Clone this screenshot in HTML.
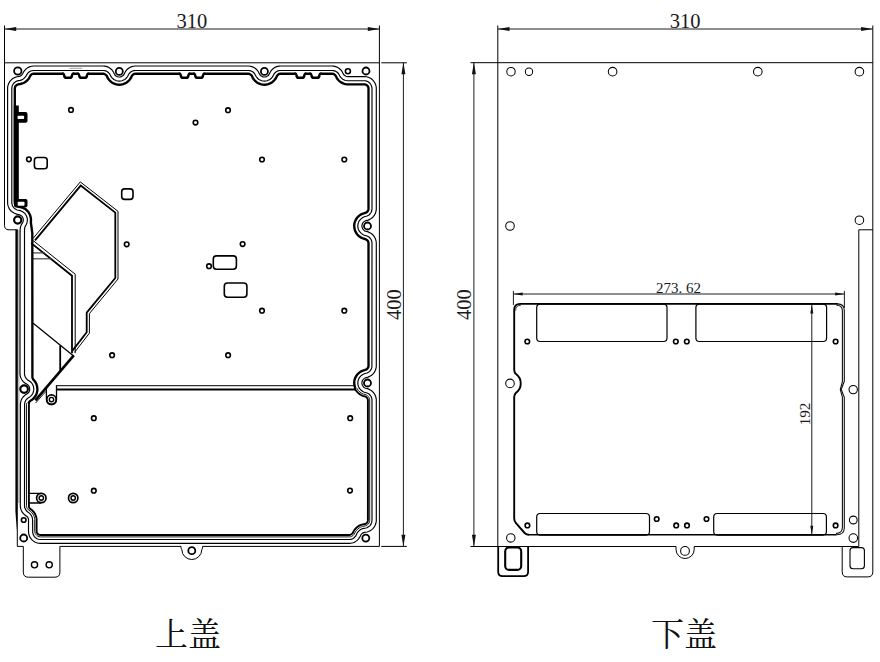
<!DOCTYPE html>
<html lang="zh"><head><meta charset="utf-8"><title>上盖 下盖</title>
<style>
html,body{margin:0;padding:0;background:#fff}
svg{display:block}
text{font-family:"Liberation Serif","Noto Serif CJK SC",serif}
.cj{font-family:"Noto Serif CJK SC","Liberation Serif",serif}
</style></head><body>
<svg width="880" height="662" viewBox="0 0 880 662" fill="none">
<rect width="880" height="662" fill="#fff"/>
<path d="M32.9,238.6L80.3,181.9L118,211.3L118,279L89.4,313.6L89.4,333.2L74.6,352.3" stroke="#000" stroke-width="1.0" fill="none" stroke-linejoin="miter"/>
<path d="M35,240.3L80.7,185.6L115.3,212.6L115.3,278L86.7,312.6L86.7,332.3L72.5,350.6" stroke="#000" stroke-width="1.8" fill="none" stroke-linejoin="miter"/>
<path d="M33.2,240.6L75.2,274.2L75.2,353.2" stroke="#000" stroke-width="1.0" fill="none" stroke-linejoin="miter"/>
<path d="M31.2,243.1L72,275.7L72,353.2" stroke="#000" stroke-width="1.8" fill="none" stroke-linejoin="miter"/>
<path d="M33,252.9L45,252.9" stroke="#444" stroke-width="1.2" />
<path d="M33,258.8L52,258.8" stroke="#444" stroke-width="1.2" />
<path d="M32.9,323.1L73.6,355.9" stroke="#000" stroke-width="1.3" />
<path d="M73.8,355.4L35.4,400.4" stroke="#000" stroke-width="2.6" />
<path d="M46,391.3L35.6,403" stroke="#000" stroke-width="0.9" />
<path d="M60.2,345.5L60.2,371" stroke="#000" stroke-width="1.8" />
<path d="M4.5,25.5V225.3Q4.5,229.8 9,229.8H15.9M17.3,546.4H23.3V572.2Q23.3,577.2 28.3,577.2H54.9Q59.9,577.2 59.9,572.2V546.4H181V548.5Q181.8,548.5 181.8,549.5A10,10 0 0 0 201.8,549.5Q201.8,548.5 202.6,548.5V546.4H379.45M381.3,546.4H406.8" stroke="#000" stroke-width="1" fill="none" />
<path d="M4.5,62.8L379.4,62.8" stroke="#000" stroke-width="1" />
<path d="M381.3,62.8L406.8,62.8" stroke="#000" stroke-width="1" />
<path d="M379.4,25.5L379.4,546.4" stroke="#000" stroke-width="1" />
<rect x="17.5" y="230" width="2" height="273" fill="#bdbdbd"/>
<path d="M15.4,229.3V511L16.8,531V546.4H17.8V229.3Z" fill="#000"/>
<path d="M20.1,76.1 16.1,77 14.6,77.6 12.5,78.8 11.3,79.9 9.7,81.7 8.6,83.8 7.8,86.1 7.6,87.7 7.6,202.5 7.8,204.9 8.3,206.4 9.2,208.6 10.6,210.5 12.4,212.1 14.4,213.3 16.7,214.1 19.5,214.7 20.9,215.4 21.8,216.1 22.6,217.2 23,218.2 23.3,219.6 23.2,221 22.9,222 21.4,224.6 20.5,226.9 20.2,228.5 20.1,230.1 20,374.2 20.2,375.7 20.6,377.2 21.2,378.6 22,380 22.9,381.2 24,382.3 25.3,383.3 27.3,384.5 28.3,385.4 29,386.3 29.3,387.1 29.6,388.1 29.7,389.2 29.6,390.3 29.3,391.1 29,391.9 28.3,392.8 27.5,393.5 25.3,394.9 24.1,396 23,397.2 22,398.5 21.3,399.9 20.8,401.4 20.4,403.8 20.3,505.6 20.4,507.1 20.9,509.4 21.5,510.8 22.3,512.1 23.2,513.4 24.3,514.5 27.2,516.7 27.8,517.4 28.3,518.5 28.5,519.9 28.5,531.4 28.6,533 28.9,534.5 29.4,536 30.1,537.4 31,538.7 32,539.9 33.2,540.9 35.2,542.2 36.6,542.8 38.2,543.2 40.5,543.4 349.2,543.4 350.8,543.3 353.1,542.8 354.5,542.2 356.5,540.9 357.7,539.9 358.7,538.7 359.6,537.4 361,534.7 361.7,533.8 362.6,533.1 364.2,532.4 367,532 368.5,531.5 370.5,530.5 371.8,529.6 372.9,528.6 373.9,527.4 375.1,525.5 375.9,523.3 376.3,521 376.3,399.5 375.9,397.2 375.4,395.7 374.3,393.6 373.3,392.4 371.6,390.8 370.3,389.9 368.2,388.9 365.5,388.2 364.5,387.7 363.8,387.2 363.1,386.4 362.4,385.3 362,384.2 361.9,382.9 362.1,381.5 362.5,380.5 363.3,379.3 364.1,378.6 365.5,377.8 368.2,377.1 370.3,376.1 371.6,375.2 373.3,373.6 374.3,372.4 375.4,370.3 375.9,368.8 376.2,367.3 376.3,365.7 376.3,243.3 376.1,241 375.4,238.7 374.3,236.6 373.3,235.4 372.2,234.3 370.3,232.9 368.2,231.9 365.5,231.2 364.7,230.9 363.8,230.2 362.9,229.2 362.4,228.3 362,227 361.9,225.9 362,224.8 362.5,223.5 363.3,222.3 364.1,221.6 365.5,220.8 368.2,220.1 370.3,219.1 372.2,217.7 373.3,216.6 374.3,215.4 375.4,213.3 376.1,211 376.3,209.5 376.3,88.6 376.2,87 375.7,84.7 375.1,83.3 373.8,81.3 372.8,80.1 371,78.6 368.9,77.5 366.6,76.8 364.3,76.6 347.8,76.6 346,76.2 344.8,75.6 343.9,74.8 343.3,73.9 342.3,72 341.5,70.7 340.4,69.5 339.3,68.5 337.3,67.2 335.8,66.6 333.5,66.1 332,66 280.7,66 279.1,66.1 277.6,66.4 276.1,66.9 274.7,67.6 273.4,68.5 272.2,69.5 271.2,70.7 270.3,72 269.1,74.4 268.3,75.5 267.4,76.1 266.7,76.5 265.6,76.9 264.5,77 263.4,76.9 262.4,76.6 261.4,76.1 260.5,75.5 259.7,74.4 258.5,72 257.6,70.7 256,69 254.8,68 253.4,67.2 251.9,66.6 250.4,66.2 248.9,66 134.8,66 133.3,66.2 131.8,66.6 130.3,67.2 128.9,68 127.1,69.5 126.1,70.7 125.2,72 124,74.4 123.2,75.5 122.3,76.1 121.3,76.6 120.3,76.9 119.2,77 118.1,76.9 117,76.5 116.1,76 115.4,75.5 114.6,74.4 113.4,72 112.5,70.7 111.5,69.5 110.3,68.5 109,67.6 107.6,66.9 106.1,66.4 104.6,66.1 103,66 33.2,66 31.7,66.2 29.4,66.9 28.1,67.5 26.8,68.4 25.6,69.4 24.6,70.5 23.7,71.8 22.5,74 21.7,75.1 20.8,75.7Z" stroke="#000" stroke-width="1.15" fill="none" />
<path d="M20.3,80.4 17.4,80.9 15.9,81.6 14.6,82.5 13.8,83.2 13.2,84 12.4,85.4 12.1,86.4 11.8,88 11.8,203 12.1,204.6 12.6,206 13.5,207.3 14.9,208.8 16.3,209.6 17.2,210 20.2,210.6 21.8,211.2 23.4,212.2 24.8,213.4 25.8,214.7 26.6,216.2 27.1,217.7 27.4,219.4 27.3,221 27,222.7 26.4,224.2 25.3,226.2 24.9,227.1 24.6,228.6 24.5,229.7 24.5,374.1 24.8,375.6 25.1,376.5 25.8,377.9 26.4,378.7 27.4,379.7 30.5,381.8 31.5,382.9 32.4,384 33,385.3 33.5,386.6 33.7,388.1 33.8,389.2 33.7,390.4 33.4,391.8 32.9,393.2 32.4,394.2 31.5,395.3 30.5,396.4 27.4,398.5 26.3,399.6 25.7,400.5 25,402 24.6,404 24.5,505.6 24.6,507.1 24.9,508.1 25.8,510 27.1,511.5 29.3,513.1 30.4,514.1 31.5,515.7 32.2,517.3 32.6,519.7 32.7,532.6 33.2,534.6 34.2,536.4 35.3,537.5 37,538.7 38.5,539.2 40.5,539.5 349.1,539.5 350.2,539.4 351.7,539.1 353.1,538.4 354.4,537.5 355.8,535.9 357,533.3 357.8,532.1 359,530.8 360.3,529.7 361.6,529 362.8,528.6 365.9,528 366.9,527.7 368.8,526.6 370,525.6 371.1,523.9 371.7,522.4 372,520.3 372,399.7 371.7,398.2 371.2,396.8 370.4,395.5 369.3,394.3 368.5,393.7 367.1,393 364.3,392.2 362.8,391.5 361.4,390.6 360.1,389.2 359.1,387.9 358.4,386.4 358,384.8 357.8,382.9 358,381.2 358.5,379.4 359.2,377.9 360.2,376.6 361.4,375.4 362.8,374.5 364.3,373.8 367.1,373 368.5,372.3 369.3,371.7 370,370.9 370.9,369.7 371.6,368.3 371.9,366.8 372,242.7 371.7,241.2 371.2,239.8 370.4,238.5 369.3,237.3 368.5,236.7 367.1,236 364.3,235.2 362.8,234.5 361.3,233.4 360.1,232.2 359,230.7 358.3,229.2 357.9,227.5 357.8,225.9 358,224.2 358.4,222.6 359.1,221.1 360.1,219.8 361.3,218.6 362.8,217.5 364.3,216.8 367.1,216 368.5,215.3 369.3,214.7 370.4,213.5 371.2,212.2 371.7,210.8 372,209.3 372,88.6 371.9,87.6 371.6,86.1 370.9,84.7 370.4,83.8 369.3,82.7 368.1,81.8 366.6,81.1 365.1,80.8 347.5,80.7 346.2,80.5 344.8,80.2 342.8,79.2 341.2,77.9 340,76.4 338.6,73.8 338,73 336.8,72 336,71.5 334.6,70.9 333.6,70.6 332.1,70.5 279.6,70.5 278.1,70.9 277.1,71.2 276.3,71.7 275.1,72.7 273.8,74.3 272.9,76.1 272.1,77.3 271,78.5 269.9,79.4 268.6,80.1 267.3,80.7 265.9,81 264.5,81.1 263.1,81 261.7,80.7 260.2,80.1 258.9,79.4 257.8,78.5 256.8,77.5 256,76.3 254.7,73.8 253.4,72.3 252.1,71.5 251.2,71 249.7,70.6 248.7,70.5 135,70.5 134,70.6 132.5,71 131.2,71.7 130.3,72.3 129,73.8 127.7,76.3 126.9,77.5 125.9,78.5 124.8,79.4 123.5,80.1 122.2,80.7 120.8,81 119.2,81.1 117.8,81 116.4,80.7 115.1,80.1 113.8,79.4 112.5,78.3 111.6,77.3 110.8,76.1 109.9,74.3 108.6,72.7 107.4,71.7 106.6,71.2 105.6,70.9 104.1,70.5 33.8,70.5 31.7,70.7 30.2,71.3 29.3,71.8 27.8,73.2 27.2,74.1 25.6,76.7 24,78.4 22.9,79.3 21.6,79.9Z" stroke="#000" stroke-width="1.15" fill="none" />
<clipPath id="lowc"><path d="M0,403H300V388H420V560H0Z"/></clipPath>
<clipPath id="upc"><path d="M0,0H420V388H300V403H0Z"/></clipPath>
<path d="M20.2,82.6 16.9,83.2 16,83.7 15.1,84.5 14,86 13.6,87 13.4,88.2 13.4,202.8 13.7,204.3 14.2,205.4 14.8,206.3 16,207.3 17.7,208.1 20.5,208.5 22.3,209.1 24.3,210.2 26.1,211.7 27.5,213.4 28.4,215 29,216.6 29.5,218.9 30,220 30,376.3 30.3,377.8 30.9,379.1 33.5,382 34.8,384.1 35.7,386.7 35.9,389.2 35.8,390.9 35.4,392.5 34.8,394.1 34.2,395.2 33.2,396.6 32,397.9 30.7,398.9 28.9,399.9 27.9,400.9 26.9,402.5 26.5,404.3 26.5,505.6 26.8,507.4 27.4,508.7 28.4,509.9 30.7,511.5 32.2,513 33.4,514.8 34.2,516.7 34.6,518.3 34.7,519.5 34.7,531.5 35.1,533.3 35.9,534.6 36.7,535.4 37.9,536.3 39,536.7 40.5,536.9 349.3,536.9 350.4,536.8 351.5,536.5 353.1,535.5 354.1,534.4 355.4,531.9 356.4,530.5 357.7,529.1 359.1,528 360.6,527.2 361.7,526.7 362.9,526.3 365.7,525.8 367.4,524.9 368.2,524.1 369.1,522.9 369.5,521.8 369.7,520.3 369.7,399.9 369.5,398.8 368.9,397.4 368.3,396.5 367.5,395.7 366.2,394.9 363.6,394.1 361.9,393.4 360,392.1 358.4,390.5 357.3,389 356.4,387 355.9,385.2 355.7,382.9 355.9,380.8 356.4,379 357.3,377 358.4,375.5 360,373.9 361.9,372.6 363.6,371.9 366.2,371.1 367.5,370.3 368.3,369.5 368.9,368.6 369.4,367.6 369.7,366.5 369.7,242.9 369.4,241.4 368.9,240.4 368.3,239.5 367.5,238.7 366.2,237.9 363.6,237.1 361.9,236.4 360,235.1 358.4,233.5 357.3,232 356.4,229.9 355.8,227.8 355.7,225.9 355.9,223.8 356.4,222 357.3,220 358.4,218.5 360,216.9 361.9,215.6 363.6,214.9 366.2,214.1 367.5,213.3 368.3,212.5 368.9,211.6 369.4,210.6 369.7,209.1 369.7,88.6 369.4,86.7 368.5,85.1 367.7,84.2 366.8,83.6 365.8,83.1 364.7,82.8 347.4,82.8 345.7,82.6 344.1,82.2 341.9,81.1 340.7,80.2 339.7,79.4 338.4,77.7 336.7,74.6 335.7,73.4 334.1,72.4 333,72.1 331.9,72 280,72.1 278.2,72.6 276.6,73.8 275.7,75 274.8,76.9 273.9,78.4 272.8,79.7 271.4,80.9 269.9,81.8 268.3,82.5 266.6,83 264.5,83.2 262.7,83.1 261,82.7 259.4,82.1 257.8,81.2 256.1,79.8 255,78.5 254,77 253.1,75 252.2,73.8 250.6,72.6 249.5,72.2 248.4,72 135.3,72 134.2,72.2 133.1,72.6 131.5,73.8 130.6,75 129.7,77 128.7,78.5 127.3,80.1 125.9,81.2 124.4,82 122.8,82.7 121,83.1 119.2,83.2 117.5,83.1 115.8,82.7 113.8,81.8 112.3,80.9 111,79.8 109.8,78.4 108.9,76.9 108,75 107.1,73.8 105.5,72.6 103.7,72.1 33.7,72 31.8,72.4 30.8,73 29.9,73.7 29,74.9 28.2,76.6 27.2,78.1 26.1,79.4 24.8,80.5 23.4,81.4 21.8,82.1Z" stroke="#000" stroke-width="0.9" fill="none" clip-path="url(#lowc)"/>
<path d="M20.4,84.4 17.3,85 16,85.8 15.1,87.1 14.8,88.6 14.8,202.7 14.9,203.4 15.3,204.4 15.9,205.2 16.7,205.8 17.9,206.2 21,206.7 23,207.4 25.3,208.6 27.4,210.3 28.7,211.8 29.8,213.6 30.8,216 31.4,218.6 31.8,219.3 32.3,220 32.4,376.4 32.5,377.4 32.9,378.4 35.1,381 36.2,382.6 36.7,383.8 37.5,386.5 37.8,389.1 37.7,391.1 37.4,392.5 36.8,394.3 35.9,396.1 34.7,397.8 33.3,399.2 32.2,400.1 30.4,401.3 29.8,401.8 29.2,402.9 28.9,404.2 28.9,505.9 29,506.9 29.5,508.1 30.2,508.8 32.4,510.5 33.7,511.9 35.1,513.9 36,516.2 36.5,518.1 36.6,519.4 36.6,531.4 36.9,532.6 37.4,533.5 37.9,534 38.8,534.6 39.7,534.9 40.5,535 349.3,535 350.8,534.7 352,533.9 352.7,533.1 353.8,530.9 354.9,529.3 356.4,527.8 358,526.5 359.2,525.7 361,524.9 363,524.4 365.1,524 366.4,523.3 367.1,522.6 367.5,522 367.8,521 367.9,520.3 367.9,400 367.7,399 367.4,398.3 366.4,397.2 365.6,396.7 362.8,395.9 360.5,394.8 358.8,393.6 356.9,391.7 355.7,390 354.6,387.7 354,385.1 353.8,383 354.1,380.4 354.6,378.3 355.7,376 356.9,374.3 358.8,372.4 360.5,371.2 362.3,370.3 365.3,369.4 366.4,368.8 367.4,367.7 367.9,366.3 367.9,243 367.5,241.6 367,240.7 366.4,240.2 365.6,239.7 362.8,238.9 360.5,237.8 358.8,236.6 356.9,234.7 355.7,233 354.6,230.7 354.1,228.6 353.8,226 354.1,223.4 354.6,221.3 355.7,219 356.9,217.3 358.8,215.4 360.5,214.2 362.3,213.3 365.3,212.4 366.4,211.8 366.9,211.3 367.5,210.5 367.9,209 367.9,88.6 367.7,87.3 367.1,86.2 366.4,85.5 365.7,85.1 364.3,84.7 347.3,84.7 345.3,84.5 343.4,83.9 341,82.8 339.4,81.7 338.4,80.7 336.8,78.8 335.3,76 334.5,75 333.2,74.2 331.9,74 280.2,74 279,74.4 277.9,75.2 277.3,76 276.5,77.9 275.4,79.6 273.6,81.5 272.1,82.8 270.3,83.8 268.4,84.5 266.5,84.9 264.4,85.1 262.4,85 260.5,84.5 258.6,83.8 256.7,82.8 254.7,81.1 253.4,79.6 252.3,77.9 251.5,76 250.9,75.2 249.6,74.3 248.3,74 135.4,74 133.9,74.4 132.8,75.2 132.2,76 131.4,77.9 130.3,79.6 129,81.1 127,82.8 125.1,83.8 123.2,84.5 121.3,85 119.3,85.1 117.2,84.9 115.3,84.5 113.4,83.8 111.6,82.8 110.1,81.5 108.3,79.6 107.2,77.9 106.4,76 105.8,75.2 104.7,74.4 103.5,74 33.7,74 32.3,74.4 31.3,75.1 30.7,75.9 29.6,78 28.4,79.7 27,81.1 25.5,82.4 24.2,83.1 22.4,83.9Z" stroke="#000" stroke-width="1.9" fill="none" clip-path="url(#lowc)"/>
<path d="M20.4,84 18,84.4 17.2,84.7 16,85.5 15.5,86.2 15.1,86.9 14.8,88.3 14.8,202.7 14.9,203.6 15.2,204.4 15.9,205.3 16.5,205.9 17.2,206.3 18,206.6 20.3,207 22.1,207.5 24.5,208.6 25.7,209.3 27.1,210.6 28.4,212 29.1,213.2 30.2,215.5 30.8,218 31,219.9 30.9,222.7 32.3,233 32.4,377 32.5,377.8 32.9,378.9 35.1,381.7 36.4,384 37.1,386.5 37.4,389.2 37.3,391 36.8,392.9 36.4,394.2 35.5,396 34.3,397.6 33.1,398.9 32,399.8 30,401.1 29.4,401.7 28.6,402.9 28.3,404.2 28.3,505.8 28.5,506.9 29.1,508.2 29.8,509 32.1,510.7 33.4,512.1 34.7,514.2 35.6,516.3 36.1,518.1 36.2,519.4 36.2,531.4 36.4,532.5 37.1,533.8 37.7,534.4 38.6,535 39.7,535.4 40.5,535.5 349.3,535.5 350.1,535.4 350.9,535.2 351.7,534.8 352.3,534.2 353,533.3 354.1,531.2 355.3,529.5 356.6,528.1 358.2,526.8 359.4,526.1 361.2,525.3 363.1,524.8 365.3,524.4 366.1,524.1 366.8,523.7 367.6,522.9 368.1,522.2 368.4,521.4 368.5,520.3 368.5,400 368.4,399.2 368.1,398.4 367.4,397.4 366.8,396.9 365.8,396.3 363.1,395.5 361.2,394.7 359.1,393.3 357.3,391.5 355.8,389.3 355,387.4 354.4,385 354.2,382.9 354.4,380.5 355,378.5 356.1,376.2 357.3,374.5 359,372.8 361.2,371.3 363.1,370.5 365.8,369.7 366.8,369.2 367.4,368.6 367.9,367.9 368.3,367.1 368.5,366.3 368.5,243 368.3,241.9 367.9,241.1 367.4,240.4 366.8,239.9 365.8,239.3 363.1,238.5 361.2,237.7 359.1,236.3 357.3,234.5 356.1,232.8 355,230.5 354.4,228 354.2,225.9 354.4,223.5 355,221.5 356.1,219.2 357.3,217.5 359,215.8 361.2,214.3 363.1,213.5 365.8,212.7 366.8,212.2 367.6,211.4 368,210.6 368.3,209.8 368.5,209 368.5,88.6 368.3,87.2 367.6,86 367,85.4 366.3,84.9 365.6,84.5 364.8,84.3 347.3,84.3 345.4,84.1 343.6,83.6 341.2,82.4 339.7,81.4 338.7,80.5 337.1,78.6 335.7,75.8 334.8,74.8 334.1,74.3 333.3,73.9 332,73.7 280.2,73.7 278.8,74.1 277.7,75 277,75.9 275.8,78.3 274.7,79.8 273.4,81.2 271.8,82.4 270.1,83.4 268.3,84.1 266.4,84.5 264.5,84.7 262.5,84.6 260.6,84.1 258.7,83.4 257,82.4 255.4,81.2 254.1,79.8 253,78.3 251.9,75.9 251.2,75 250,74.2 249.2,73.9 248.4,73.7 135.3,73.7 134.5,73.8 133.7,74.1 132.6,75 131.9,75.9 130.7,78.3 129.6,79.8 128.3,81.2 126.7,82.4 125,83.4 123.1,84.1 121.2,84.6 119.2,84.7 117.3,84.5 115.4,84.1 113.6,83.4 111.9,82.4 110.3,81.2 109,79.8 107.9,78.3 106.8,75.9 106.1,75 104.9,74.2 103.6,73.7 33.7,73.7 32.1,74.1 31,74.9 30.3,75.8 29.2,77.8 28.5,79 27.2,80.4 25.7,81.7 24.1,82.7 22.3,83.5Z" stroke="#000" stroke-width="2.35" fill="none" clip-path="url(#upc)"/>
<rect x="13.8" y="105.5" width="5" height="96" fill="#000"/>
<rect x="14" y="112.1" width="13.5" height="10.6" rx="1.8" fill="#000"/>
<rect x="17.6" y="115.8" width="6.5" height="3.3" rx="0.8" fill="#fff"/>
<rect x="14" y="199" width="13.5" height="8.4" rx="1.8" fill="#000"/>
<rect x="17.7" y="201.8" width="6.8" height="4" rx="0.8" fill="#fff"/>
<rect x="64" y="72" width="8.2" height="3.6" fill="#fff"/>
<path d="M62.8,73.7Q64,73.7 64.2,75.3Q64.4,77.8 66.4,77.8H69.8Q71.8,77.8 72,75.3Q72.2,73.7 73.4,73.7" stroke="#000" stroke-width="2.5" fill="none" stroke-linecap="round"/>
<rect x="79" y="72" width="8.2" height="3.6" fill="#fff"/>
<path d="M77.8,73.7Q79,73.7 79.2,75.3Q79.4,77.8 81.4,77.8H84.8Q86.8,77.8 87,75.3Q87.2,73.7 88.4,73.7" stroke="#000" stroke-width="2.5" fill="none" stroke-linecap="round"/>
<rect x="180.6" y="72" width="8" height="3.6" fill="#fff"/>
<path d="M179.4,73.7Q180.6,73.7 180.8,75.3Q181,77.8 183,77.8H186.2Q188.2,77.8 188.4,75.3Q188.6,73.7 189.8,73.7" stroke="#000" stroke-width="2.5" fill="none" stroke-linecap="round"/>
<rect x="195" y="72" width="8.2" height="3.6" fill="#fff"/>
<path d="M193.8,73.7Q195,73.7 195.2,75.3Q195.4,77.8 197.4,77.8H200.8Q202.8,77.8 203,75.3Q203.2,73.7 204.4,73.7" stroke="#000" stroke-width="2.5" fill="none" stroke-linecap="round"/>
<rect x="296.3" y="72" width="8.2" height="3.6" fill="#fff"/>
<path d="M295.1,73.7Q296.3,73.7 296.5,75.3Q296.7,77.8 298.7,77.8H302.1Q304.1,77.8 304.3,75.3Q304.5,73.7 305.7,73.7" stroke="#000" stroke-width="2.5" fill="none" stroke-linecap="round"/>
<rect x="311.3" y="72" width="8.3" height="3.6" fill="#fff"/>
<path d="M310.1,73.7Q311.3,73.7 311.5,75.3Q311.7,77.8 313.7,77.8H317.2Q319.2,77.8 319.4,75.3Q319.6,73.7 320.8,73.7" stroke="#000" stroke-width="2.5" fill="none" stroke-linecap="round"/>
<path d="M69.6,68.3L82.2,68.3" stroke="#999" stroke-width="0.9" />
<path d="M56.5,385.7L355.2,385.7" stroke="#000" stroke-width="1" />
<path d="M56,389.6L355.6,389.6" stroke="#000" stroke-width="2" />
<path d="M46.4,387.5V399.6A5.05,5.05 0 0 0 56.5,399.6V385.2" stroke="#000" stroke-width="1.3" fill="none" />
<circle cx="51.5" cy="399.6" r="4.7" stroke="#000" stroke-width="1.7" fill="none"/>
<circle cx="51.5" cy="399.6" r="2.2" stroke="#000" stroke-width="1.4" fill="none"/>
<path d="M28.4,493.3H41.3M28.4,503H41.3" stroke="#000" stroke-width="1.3" fill="none" />
<circle cx="41.3" cy="498" r="4.7" stroke="#000" stroke-width="1.7" fill="#fff"/>
<circle cx="41.3" cy="498" r="2.2" stroke="#000" stroke-width="1.4" fill="none"/>
<circle cx="73.2" cy="498" r="4.7" stroke="#000" stroke-width="1.7" fill="none"/>
<circle cx="73.2" cy="498" r="2.2" stroke="#000" stroke-width="1.4" fill="none"/>
<circle cx="71" cy="109.9" r="2.3" stroke="#000" stroke-width="1.6" fill="none"/>
<circle cx="195.5" cy="122.6" r="2.3" stroke="#000" stroke-width="1.6" fill="none"/>
<circle cx="228" cy="110.2" r="2.3" stroke="#000" stroke-width="1.6" fill="none"/>
<circle cx="28.9" cy="159.3" r="2.3" stroke="#000" stroke-width="1.6" fill="none"/>
<circle cx="262" cy="159.5" r="2.3" stroke="#000" stroke-width="1.6" fill="none"/>
<circle cx="344.3" cy="159.5" r="2.3" stroke="#000" stroke-width="1.6" fill="none"/>
<circle cx="126.7" cy="244.3" r="2.3" stroke="#000" stroke-width="1.6" fill="none"/>
<circle cx="209" cy="266.2" r="2.3" stroke="#000" stroke-width="1.6" fill="none"/>
<circle cx="242.6" cy="244.1" r="2.3" stroke="#000" stroke-width="1.6" fill="none"/>
<circle cx="262" cy="310.7" r="2.3" stroke="#000" stroke-width="1.6" fill="none"/>
<circle cx="344.3" cy="310.7" r="2.3" stroke="#000" stroke-width="1.6" fill="none"/>
<circle cx="112.1" cy="355.2" r="2.3" stroke="#000" stroke-width="1.6" fill="none"/>
<circle cx="228.1" cy="355.2" r="2.3" stroke="#000" stroke-width="1.6" fill="none"/>
<circle cx="93.8" cy="418.2" r="2.3" stroke="#000" stroke-width="1.6" fill="none"/>
<circle cx="350.2" cy="418.2" r="2.3" stroke="#000" stroke-width="1.6" fill="none"/>
<circle cx="93.8" cy="490.7" r="2.3" stroke="#000" stroke-width="1.6" fill="none"/>
<circle cx="350" cy="490.6" r="2.3" stroke="#000" stroke-width="1.6" fill="none"/>
<rect x="34.4" y="157.5" width="12.8" height="11.3" rx="2.8" stroke="#000" stroke-width="1.6" fill="none"/>
<rect x="121.7" y="188.9" width="11.3" height="10.5" rx="2.8" stroke="#000" stroke-width="1.6" fill="none"/>
<rect x="213.3" y="255.9" width="23.1" height="13.3" rx="3.2" stroke="#000" stroke-width="1.6" fill="none"/>
<rect x="224.3" y="283" width="22.6" height="14.3" rx="3.2" stroke="#000" stroke-width="1.6" fill="none"/>
<circle cx="17.8" cy="71" r="3.7" stroke="#000" stroke-width="1.8" fill="none"/>
<circle cx="119.3" cy="71.4" r="3.5" stroke="#000" stroke-width="1.8" fill="none"/>
<circle cx="264.4" cy="71.4" r="3.5" stroke="#000" stroke-width="1.8" fill="none"/>
<circle cx="347.9" cy="71.3" r="2.5" stroke="#000" stroke-width="1.6" fill="none"/>
<circle cx="366" cy="71" r="3.5" stroke="#000" stroke-width="1.8" fill="none"/>
<circle cx="367.5" cy="226" r="3.5" stroke="#000" stroke-width="1.8" fill="none"/>
<circle cx="367.5" cy="383" r="3.5" stroke="#000" stroke-width="1.8" fill="none"/>
<circle cx="365.8" cy="538.1" r="3.5" stroke="#000" stroke-width="1.8" fill="none"/>
<circle cx="23.7" cy="520" r="2.3" stroke="#000" stroke-width="1.6" fill="none"/>
<circle cx="23.7" cy="538" r="3.5" stroke="#000" stroke-width="1.8" fill="none"/>
<circle cx="24.1" cy="389.1" r="3.8" stroke="#000" stroke-width="2.15" fill="none"/>
<circle cx="17.7" cy="220" r="3.6" stroke="#000" stroke-width="2.15" fill="none"/>
<circle cx="191.8" cy="550.7" r="3.5" stroke="#000" stroke-width="1.8" fill="none"/>
<circle cx="34.5" cy="564.8" r="3.1" stroke="#000" stroke-width="1.35" fill="none"/>
<circle cx="49.2" cy="564.8" r="3.1" stroke="#000" stroke-width="1.35" fill="none"/>
<path d="M4.5,29L379.4,29" stroke="#1c1c1c" stroke-width="1" />
<path d="M4.5,29L16.2,27L16.2,31Z" fill="#111" stroke="none"/>
<path d="M379.4,29L367.8,31L367.8,27Z" fill="#111" stroke="none"/>
<path d="M403.4,62.5L403.4,546.4" stroke="#1c1c1c" stroke-width="1" />
<path d="M403.4,62.5L405.4,74.2L401.4,74.2Z" fill="#111" stroke="none"/>
<path d="M403.4,546.4L401.4,534.7L405.4,534.7Z" fill="#111" stroke="none"/>
<path d="M497.8,25.5V546.5" stroke="#000" stroke-width="1" fill="none" />
<path d="M872.8,25.5V571.9Q872.8,576.9 867.8,576.9H847.2Q842.2,576.9 842.2,571.9V546.5" stroke="#000" stroke-width="1" fill="none" />
<path d="M470.5,546.5H676V549.4A9.1,9.1 0 0 0 694.2,549.4V546.5H858.8" stroke="#000" stroke-width="1" fill="none" />
<path d="M470.5,62.7L872.8,62.7" stroke="#000" stroke-width="1" />
<path d="M872.8,229.8H858.8V546.5" stroke="#000" stroke-width="1" fill="none" />
<path d="M498.2,546.5V571.7Q498.2,576.2 502.7,576.2H523.6Q528.1,576.2 528.1,571.7V546.5" stroke="#000" stroke-width="1.8" fill="none" />
<rect x="505.2" y="547.4" width="16" height="22.5" rx="4" stroke="#000" stroke-width="2.1" fill="none"/>
<rect x="850" y="547.6" width="14.4" height="21.1" rx="3" stroke="#000" stroke-width="1.1" fill="none"/>
<circle cx="511" cy="71.7" r="4.2" stroke="#000" stroke-width="1.05" fill="none"/>
<circle cx="529" cy="71.7" r="3.7" stroke="#000" stroke-width="1.05" fill="none"/>
<circle cx="612.6" cy="71.7" r="4.3" stroke="#000" stroke-width="1.05" fill="none"/>
<circle cx="757.8" cy="71.7" r="4.3" stroke="#000" stroke-width="1.05" fill="none"/>
<circle cx="859.4" cy="71.7" r="4.3" stroke="#000" stroke-width="1.05" fill="none"/>
<circle cx="510" cy="226" r="4.3" stroke="#000" stroke-width="1.05" fill="none"/>
<circle cx="859.4" cy="220.2" r="4.3" stroke="#000" stroke-width="1.05" fill="none"/>
<circle cx="510" cy="383.4" r="4.3" stroke="#000" stroke-width="1.05" fill="none"/>
<circle cx="853.2" cy="389.6" r="4.2" stroke="#000" stroke-width="1.05" fill="none"/>
<circle cx="510.8" cy="537.9" r="4.2" stroke="#000" stroke-width="1.05" fill="none"/>
<circle cx="853.3" cy="520" r="3.9" stroke="#000" stroke-width="1.05" fill="none"/>
<circle cx="853.3" cy="538.1" r="4.3" stroke="#000" stroke-width="1.05" fill="none"/>
<circle cx="685" cy="550.9" r="4.4" stroke="#000" stroke-width="1.05" fill="none"/>
<path d="M529,534.8Q526.5,534.8 524.6,533L516,523.2Q514.2,521.2 514.2,518.5V397.1Q514.2,394.4 516,392.7A11.5,11.5 0 0 0 516,374.1Q514.2,372.4 514.2,369.7V309.9Q514.2,303.9 520.2,303.9H838" stroke="#000" stroke-width="1.9" fill="none" />
<path d="M529,534.8H836.7" stroke="#000" stroke-width="1.5" fill="none" />
<path d="M837.5,303.9Q844.3,303.9 844.3,310.5V381.3L841.2,389.5L844.3,397.4V527.8Q844.3,534.8 836.7,534.8" stroke="#111" stroke-width="1.1" fill="none" />
<path d="M836.5,305.2Q842.4,305.2 842.4,311V381.6L840.3,389.5L842.4,397.2V527Q842.4,533.4 836,533.4" stroke="#111" stroke-width="1.1" fill="none" />
<path d="M515.6,310.5Q515.6,305.3 520.8,305.3" stroke="#000" stroke-width="0.8" fill="none" />
<rect x="536.7" y="304.1" width="130.3" height="37.4" rx="3.5" stroke="#000" stroke-width="1.2" fill="none"/>
<rect x="695.9" y="304.1" width="130.7" height="37.4" rx="3.5" stroke="#000" stroke-width="1.2" fill="none"/>
<rect x="536.7" y="513.5" width="112.8" height="21.6" rx="3.5" stroke="#000" stroke-width="1.2" fill="none"/>
<rect x="713.7" y="513.5" width="112.7" height="21.6" rx="3.5" stroke="#000" stroke-width="1.2" fill="none"/>
<circle cx="527.3" cy="341.5" r="2.3" stroke="#000" stroke-width="1.6" fill="none"/>
<circle cx="675.8" cy="341.5" r="2.3" stroke="#000" stroke-width="1.6" fill="none"/>
<circle cx="686.8" cy="341.5" r="2.3" stroke="#000" stroke-width="1.6" fill="none"/>
<circle cx="835.6" cy="341.5" r="2.3" stroke="#000" stroke-width="1.6" fill="none"/>
<circle cx="527.4" cy="525.4" r="2.3" stroke="#000" stroke-width="1.6" fill="none"/>
<circle cx="656.7" cy="519" r="2.3" stroke="#000" stroke-width="1.6" fill="none"/>
<circle cx="676.2" cy="525.4" r="2.3" stroke="#000" stroke-width="1.6" fill="none"/>
<circle cx="687" cy="525.4" r="2.3" stroke="#000" stroke-width="1.6" fill="none"/>
<circle cx="706.5" cy="519" r="2.3" stroke="#000" stroke-width="1.6" fill="none"/>
<circle cx="835.6" cy="525.4" r="2.3" stroke="#000" stroke-width="1.6" fill="none"/>
<path d="M497.8,29L872.8,29" stroke="#1c1c1c" stroke-width="1" />
<path d="M497.8,29L509.5,27L509.5,31Z" fill="#111" stroke="none"/>
<path d="M872.8,29L861.1,31L861.1,27Z" fill="#111" stroke="none"/>
<path d="M473.9,62.5L473.9,546.5" stroke="#1c1c1c" stroke-width="1" />
<path d="M473.9,62.5L475.9,74.2L471.9,74.2Z" fill="#111" stroke="none"/>
<path d="M473.9,546.5L471.9,534.8L475.9,534.8Z" fill="#111" stroke="none"/>
<path d="M513.4,294L844.4,294" stroke="#1c1c1c" stroke-width="1" />
<path d="M513.4,294L522.7,292.5L522.7,295.5Z" fill="#111" stroke="none"/>
<path d="M844.4,294L835.1,295.5L835.1,292.5Z" fill="#111" stroke="none"/>
<path d="M513.4,290.9L513.4,305" stroke="#1c1c1c" stroke-width="1" />
<path d="M844.4,290.9L844.4,308" stroke="#1c1c1c" stroke-width="1" />
<path d="M811.8,304.3L811.8,535" stroke="#1c1c1c" stroke-width="1" />
<path d="M811.8,304.6L813.3,313.6L810.3,313.6Z" fill="#111" stroke="none"/>
<path d="M811.8,534.8L810.3,525.8L813.3,525.8Z" fill="#111" stroke="none"/>
<text x="191.8" y="27.8" font-size="20.5" text-anchor="middle" fill="#1a1a1a">310</text>
<text x="685" y="27.8" font-size="20.5" text-anchor="middle" fill="#1a1a1a">310</text>
<text transform="translate(401,304.7) rotate(-90)" font-size="20.5" text-anchor="middle" fill="#1a1a1a">400</text>
<text transform="translate(470.5,304.7) rotate(-90)" font-size="20.5" text-anchor="middle" fill="#1a1a1a">400</text>
<text x="678.5" y="292.5" font-size="15" text-anchor="middle" fill="#1a1a1a">273. 62</text>
<text transform="translate(810,414) rotate(-90)" font-size="15" text-anchor="middle" fill="#1a1a1a">192</text>
<text x="188" y="646" font-size="33" text-anchor="middle" fill="#111" class="cj">上盖</text>
<text x="684" y="646" font-size="33" text-anchor="middle" fill="#111" class="cj">下盖</text>
</svg>
</body></html>
